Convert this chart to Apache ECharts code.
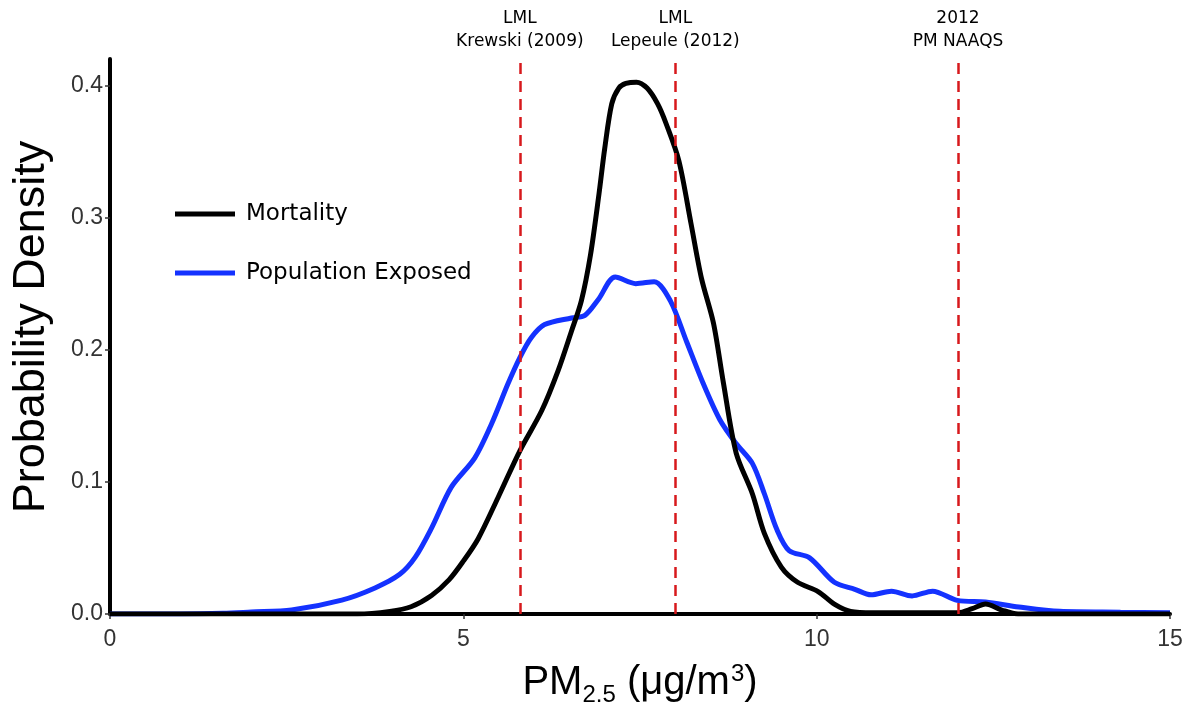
<!DOCTYPE html>
<html>
<head>
    <meta charset="utf-8">
    <script type="text/javascript" src="https://cdn.jsdelivr.net/npm/echarts@6/dist/echarts.min.js"></script>
</head>
<body style="margin:0;">

<div id="main" style="width:1195px;height:717px;"></div>

<script type="text/javascript">

    // 死亡率密度曲线
    var mortalityX = [0, 1, 2, 3, 3.5, 3.96, 4.26, 4.55, 4.8, 5.0, 5.21, 5.49, 5.8, 6.11, 6.34, 6.53, 6.67, 6.8, 6.92, 7.0, 7.1, 7.2, 7.3, 7.45, 7.6, 7.75, 7.87, 8.05, 8.22, 8.37, 8.54, 8.68, 8.86, 9.09, 9.26, 9.5, 9.73, 10.02, 10.25, 10.48, 10.8, 11.5, 12.0, 12.2, 12.39, 12.62, 12.85, 13.5, 15];
    var mortalityY = [0, 0, 0, 0, 0, 0.002, 0.0055, 0.014, 0.026, 0.040, 0.057, 0.088, 0.1235, 0.154, 0.184, 0.214, 0.237, 0.272, 0.318, 0.352, 0.386, 0.398, 0.4015, 0.4025, 0.398, 0.386, 0.371, 0.343, 0.296, 0.254, 0.220, 0.175, 0.122, 0.091, 0.061, 0.0355, 0.024, 0.017, 0.0075, 0.002, 0.001, 0.001, 0.001, 0.004, 0.0075, 0.003, 0, 0, 0];

    // 暴露人口密度曲线
    var populationX = [0, 1.0, 1.6, 2.0, 2.57, 3.28, 3.75, 4.1, 4.32, 4.55, 4.83, 5.16, 5.4, 5.63, 5.8, 5.96, 6.15, 6.53, 6.72, 6.91, 7.15, 7.44, 7.7, 7.93, 8.16, 8.39, 8.63, 8.86, 9.09, 9.26, 9.44, 9.61, 9.9, 10.25, 10.54, 10.77, 11.06, 11.35, 11.64, 11.99, 12.39, 12.86, 13.44, 14.3, 15];
    var populationY = [0, 0, 0.0005, 0.0015, 0.003, 0.0105, 0.0197, 0.030, 0.043, 0.065, 0.096, 0.118, 0.144, 0.174, 0.194, 0.209, 0.219, 0.224, 0.226, 0.238, 0.255, 0.250, 0.2515, 0.237, 0.206, 0.175, 0.147, 0.129, 0.114, 0.091, 0.0635, 0.048, 0.0425, 0.024, 0.0187, 0.0145, 0.0173, 0.0137, 0.0173, 0.0103, 0.009, 0.0053, 0.002, 0.0014, 0.001];

    // 参考线
    var refLineX = [5.8, 8, 12];
    var refLineLabels = ['LML\nKrewski (2009)', 'LML\nLepeule (2012)', '2012\nPM NAAQS'];

    var yTicks = [0, 0.1, 0.2, 0.3, 0.4];
    var seriesNames = ['Mortality', 'Population Exposed'];

    function pairs(xs, ys) {
        return xs.map(function (x, i) { return [x, ys[i]]; });
    }

    var myChart = echarts.init(document.getElementById('main'));

    var option = {
        animation: false,
        backgroundColor: '#fff',
        grid: {
            left: 110,
            right: 25,
            top: 59,
            bottom: 103,
            outerBoundsMode: 'none'
        },
        legend: {
            data: seriesNames,
            orient: 'vertical',
            left: 170,
            top: 195,
            itemWidth: 60,
            itemHeight: 5,
            itemGap: 31,
            icon: 'rect',
            textStyle: {
                fontFamily: 'DejaVu Sans',
                fontSize: 23,
                color: '#000',
                lineHeight: 28,
                padding: [0, 0, 0, 6]
            }
        },
        xAxis: {
            type: 'value',
            min: 0,
            max: 15,
            interval: 5,
            name: '{a|PM}{sub|2.5}{a| (μg/m}{sup|3}{a|)}',
            nameLocation: 'middle',
            nameGap: 43,
            nameTextStyle: {
                rich: {
                    a: { fontFamily: 'Liberation Sans', fontSize: 40, color: '#000', lineHeight: 52 },
                    sub: { fontFamily: 'Liberation Sans', fontSize: 24, color: '#000', lineHeight: 24, padding: [26, 0, 2, 0] },
                    sup: { fontFamily: 'Liberation Sans', fontSize: 24, color: '#000', lineHeight: 24, padding: [5, 0, 23, 1] }
                }
            },
            axisLine: { lineStyle: { color: '#000', width: 4 } },
            axisTick: { length: 5, lineStyle: { color: '#333', width: 1.5 } },
            axisLabel: { fontFamily: 'Liberation Sans', fontSize: 23, color: '#333', margin: 14 },
            splitLine: { show: false }
        },
        yAxis: {
            type: 'value',
            min: 0,
            max: 0.42,
            name: 'Probability Density',
            nameLocation: 'middle',
            nameGap: 56,
            nameTextStyle: { fontFamily: 'Liberation Sans', fontSize: 45, color: '#000', padding: [0, 0, 0, 19] },
            axisLine: { show: true, lineStyle: { color: '#000', width: 4 } },
            axisTick: { show: true, length: 5, customValues: yTicks, lineStyle: { color: '#333', width: 1.5 } },
            axisLabel: {
                fontFamily: 'Liberation Sans', fontSize: 23, color: '#333', margin: 7,
                customValues: yTicks,
                formatter: function (v) { return v.toFixed(1); }
            },
            splitLine: { show: false }
        },
        series: [
            {
                name: seriesNames[1],
                type: 'line',
                data: pairs(populationX, populationY),
                smooth: 0.3,
                showSymbol: false,
                color: '#1432ff',
                lineStyle: { width: 5, color: '#1432ff' },
                z: 3
            },
            {
                name: seriesNames[0],
                type: 'line',
                data: pairs(mortalityX, mortalityY),
                smooth: 0.3,
                showSymbol: false,
                color: '#000',
                lineStyle: { width: 5, color: '#000' },
                z: 4,
                markLine: {
                    symbol: 'none',
                    silent: true,
                    lineStyle: { color: '#d7191c', type: [11, 7], width: 2.5 },
                    label: {
                        show: true,
                        position: 'end',
                        distance: 6,
                        fontFamily: 'DejaVu Sans',
                        fontSize: 17,
                        lineHeight: 23,
                        color: '#000',
                        formatter: function (p) { return refLineLabels[p.dataIndex]; }
                    },
                    data: refLineX.map(function (x) { return { xAxis: x }; })
                }
            }
        ]
    };

    myChart.setOption(option);
</script>

</body>
</html>
